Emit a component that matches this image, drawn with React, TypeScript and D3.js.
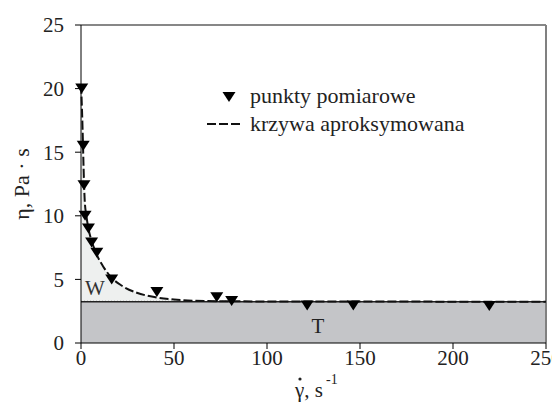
import React from 'react';
import * as d3 from 'd3';

// measured points (shear rate, viscosity)
const shearRate = [0.4, 1.2, 1.6, 2.2, 4, 5.7, 8.5, 16.5, 40.8, 73, 81, 121.6, 146.4, 219.5];
const viscosity = [20.0, 15.5, 12.4, 10.0, 9.0, 7.9, 7.1, 5.0, 4.0, 3.6, 3.3, 2.95, 2.95, 2.9];

// approximation curve
const curveX = [0, 0.5, 1, 1.5, 2, 3, 4, 6, 8, 12, 16, 22, 30, 40, 50, 60, 80, 120, 250];
const curveY = [20.3, 18.5, 16, 13.2, 11.2, 9.9, 9.0, 7.9, 7.1, 6.0, 5.2, 4.5, 3.95, 3.6, 3.42, 3.33, 3.28, 3.26, 3.25];

const etaInf = 3.25;
const xTicks = [0, 50, 100, 150, 200, 250];
const yTicks = [0, 5, 10, 15, 20, 25];

const W = 560, H = 412;
const margin = { top: 25, right: 14, bottom: 69, left: 81 };
const FONT = "Liberation Serif, Times New Roman, Times, Nimbus Roman, FreeSerif, Noto Serif, DejaVu Serif, serif";

function tri(cx: number, cy: number, w = 13, h = 10) {
  return `M${cx - w / 2},${cy - h / 2}L${cx + w / 2},${cy - h / 2}L${cx},${cy + h / 2}Z`;
}

export default function App() {
  const x = d3.scaleLinear().domain([0, 250]).range([margin.left, W - margin.right]);
  const y = d3.scaleLinear().domain([0, 25]).range([H - margin.bottom, margin.top]);

  const curve = curveX.map((v, i) => [v, curveY[i]] as [number, number]);
  const line = d3.line<[number, number]>()
    .x(d => x(d[0]))
    .y(d => y(d[1]))
    .curve(d3.curveMonotoneX);
  const area = d3.area<[number, number]>()
    .x(d => x(d[0]))
    .y0(y(etaInf))
    .y1(d => y(d[1]))
    .curve(d3.curveMonotoneX);
  const wPart = curve.filter(d => d[0] <= 80);

  const x0 = x(0), x1 = x(250), yb = y(0), yt = y(25);
  const ts = { fontFamily: FONT };

  return (
    <div style={{ margin: -8 }}>
      <svg width={W} height={H} style={{ display: 'block', background: '#fff', fontFamily: FONT }}>
        {/* T region */}
        <rect x={x0} y={y(etaInf)} width={x1 - x0} height={yb - y(etaInf)} fill="#c4c5c8" />
        {/* W region */}
        <path d={area(wPart) || ''} fill="#eef0ef" />
        <line x1={x0} x2={x(80)} y1={y(etaInf) - 0.5} y2={y(etaInf) - 0.5} stroke="#999" strokeDasharray="1,2" />
        <line x1={x0} x2={x1} y1={y(etaInf)} y2={y(etaInf)} stroke="#222" strokeWidth={1.5} />

        {/* frame */}
        <line x1={x0} x2={x1} y1={yt} y2={yt} stroke="#111" strokeWidth={1.2} />
        <line x1={x1} x2={x1} y1={yt} y2={yb} stroke="#808080" strokeWidth={2} />
        <line x1={x0} x2={x1} y1={yb} y2={yb} stroke="#000" strokeWidth={1} />
        <line x1={x0} x2={x0} y1={yt} y2={yb} stroke="#000" strokeWidth={1} />

        {/* y ticks */}
        {yTicks.map(t => (
          <g key={'y' + t}>
            <line x1={x0 - 6} x2={x0} y1={y(t)} y2={y(t)} stroke="#000" />
            <text style={ts} x={x0 - 17} y={y(t)} dy="0.35em" textAnchor="end" fontSize={21} fill="#222">{t}</text>
          </g>
        ))}
        {/* x ticks */}
        {xTicks.map(t => (
          <g key={'x' + t}>
            <line x1={x(t)} x2={x(t)} y1={yb} y2={yb + 6} stroke="#000" />
            <text style={ts} x={x(t)} y={yb + 22} textAnchor="middle" fontSize={21} fill="#222">{t}</text>
          </g>
        ))}

        {/* curve */}
        <path d={line(curve) || ''} fill="none" stroke="#111" strokeWidth={2} strokeDasharray="9,3" />

        {/* points */}
        {shearRate.map((v, i) => (
          <path key={i} d={tri(x(v), y(viscosity[i]))} fill="#000" />
        ))}

        {/* region labels */}
        <text style={ts} x={95} y={295} textAnchor="middle" fontSize={21} fill="#333">W</text>
        <text style={ts} x={318} y={333} textAnchor="middle" fontSize={21} fill="#222">T</text>

        {/* legend */}
        <path d={tri(229, 97, 13, 10)} fill="#000" />
        <text style={ts} x={250} y={103} fontSize={22} fill="#222">punkty pomiarowe</text>
        <line x1={207} x2={243} y1={124} y2={124} stroke="#111" strokeWidth={2} strokeDasharray="9,3" />
        <text style={ts} x={250} y={131} fontSize={22} fill="#222">krzywa aproksymowana</text>

        {/* axis titles */}
        <text style={ts} transform="translate(29,184) rotate(-90)" textAnchor="middle" fontSize={22} fill="#222">η, Pa · s</text>
        <text style={ts} x={295} y={397} fontSize={21} fill="#222">γ, s</text>
        <circle cx={300} cy={379} r={1.6} fill="#222" />
        <text style={ts} x={326} y={384} fontSize={14} fill="#222">-1</text>
      </svg>
    </div>
  );
}
